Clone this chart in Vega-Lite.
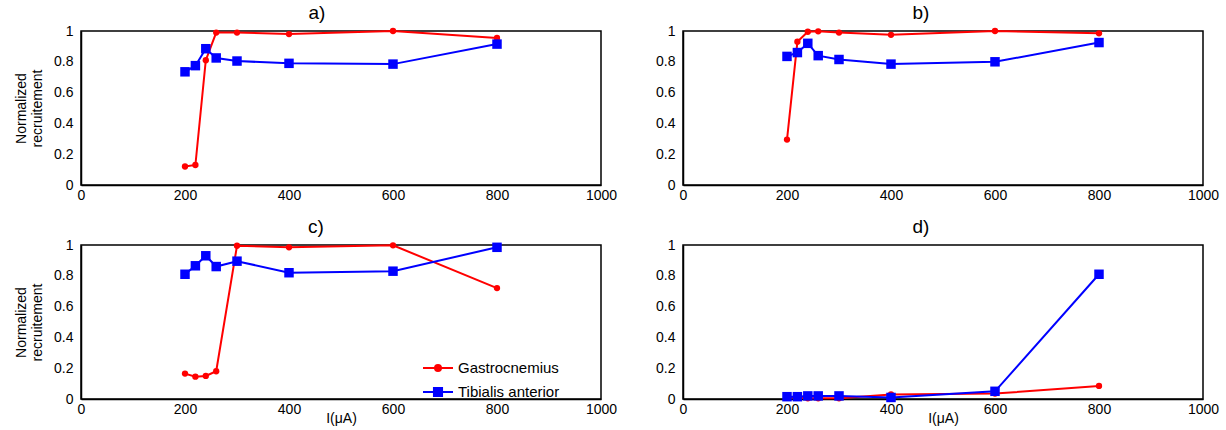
{
  "$schema": "https://vega.github.io/schema/vega-lite/v6.json",
  "padding": {"left": 13, "top": 3, "right": 5, "bottom": 2},
  "background": "white",
  "bounds": "flush",
  "spacing": {"row": 60, "column": 82},
  "columns": 2,
  "data": {"values": [
    {"p":"a","m":"Gastrocnemius","I":200,"v":0.12},
    {"p":"a","m":"Gastrocnemius","I":220,"v":0.13},
    {"p":"a","m":"Gastrocnemius","I":240,"v":0.81},
    {"p":"a","m":"Gastrocnemius","I":260,"v":0.99},
    {"p":"a","m":"Gastrocnemius","I":300,"v":0.99},
    {"p":"a","m":"Gastrocnemius","I":400,"v":0.98},
    {"p":"a","m":"Gastrocnemius","I":600,"v":1.0},
    {"p":"a","m":"Gastrocnemius","I":800,"v":0.955},
    {"p":"a","m":"Tibialis anterior","I":200,"v":0.735},
    {"p":"a","m":"Tibialis anterior","I":220,"v":0.775},
    {"p":"a","m":"Tibialis anterior","I":240,"v":0.885},
    {"p":"a","m":"Tibialis anterior","I":260,"v":0.825},
    {"p":"a","m":"Tibialis anterior","I":300,"v":0.805},
    {"p":"a","m":"Tibialis anterior","I":400,"v":0.79},
    {"p":"a","m":"Tibialis anterior","I":600,"v":0.785},
    {"p":"a","m":"Tibialis anterior","I":800,"v":0.915},
    {"p":"b","m":"Gastrocnemius","I":200,"v":0.295},
    {"p":"b","m":"Gastrocnemius","I":220,"v":0.93},
    {"p":"b","m":"Gastrocnemius","I":240,"v":0.995},
    {"p":"b","m":"Gastrocnemius","I":260,"v":0.998},
    {"p":"b","m":"Gastrocnemius","I":300,"v":0.99},
    {"p":"b","m":"Gastrocnemius","I":400,"v":0.975},
    {"p":"b","m":"Gastrocnemius","I":600,"v":1.0},
    {"p":"b","m":"Gastrocnemius","I":800,"v":0.985},
    {"p":"b","m":"Tibialis anterior","I":200,"v":0.835},
    {"p":"b","m":"Tibialis anterior","I":220,"v":0.86},
    {"p":"b","m":"Tibialis anterior","I":240,"v":0.92},
    {"p":"b","m":"Tibialis anterior","I":260,"v":0.84},
    {"p":"b","m":"Tibialis anterior","I":300,"v":0.815},
    {"p":"b","m":"Tibialis anterior","I":400,"v":0.785},
    {"p":"b","m":"Tibialis anterior","I":600,"v":0.8},
    {"p":"b","m":"Tibialis anterior","I":800,"v":0.925},
    {"p":"c","m":"Gastrocnemius","I":200,"v":0.165},
    {"p":"c","m":"Gastrocnemius","I":220,"v":0.145},
    {"p":"c","m":"Gastrocnemius","I":240,"v":0.15},
    {"p":"c","m":"Gastrocnemius","I":260,"v":0.18},
    {"p":"c","m":"Gastrocnemius","I":300,"v":0.995},
    {"p":"c","m":"Gastrocnemius","I":400,"v":0.985},
    {"p":"c","m":"Gastrocnemius","I":600,"v":0.998},
    {"p":"c","m":"Gastrocnemius","I":800,"v":0.72},
    {"p":"c","m":"Tibialis anterior","I":200,"v":0.81},
    {"p":"c","m":"Tibialis anterior","I":220,"v":0.865},
    {"p":"c","m":"Tibialis anterior","I":240,"v":0.93},
    {"p":"c","m":"Tibialis anterior","I":260,"v":0.86},
    {"p":"c","m":"Tibialis anterior","I":300,"v":0.895},
    {"p":"c","m":"Tibialis anterior","I":400,"v":0.82},
    {"p":"c","m":"Tibialis anterior","I":600,"v":0.83},
    {"p":"c","m":"Tibialis anterior","I":800,"v":0.985},
    {"p":"d","m":"Gastrocnemius","I":200,"v":0.01},
    {"p":"d","m":"Gastrocnemius","I":220,"v":0.01},
    {"p":"d","m":"Gastrocnemius","I":240,"v":0.005},
    {"p":"d","m":"Gastrocnemius","I":260,"v":0.005},
    {"p":"d","m":"Gastrocnemius","I":300,"v":0.005},
    {"p":"d","m":"Gastrocnemius","I":400,"v":0.03},
    {"p":"d","m":"Gastrocnemius","I":600,"v":0.035},
    {"p":"d","m":"Gastrocnemius","I":800,"v":0.085},
    {"p":"d","m":"Tibialis anterior","I":200,"v":0.015},
    {"p":"d","m":"Tibialis anterior","I":220,"v":0.015},
    {"p":"d","m":"Tibialis anterior","I":240,"v":0.02},
    {"p":"d","m":"Tibialis anterior","I":260,"v":0.02},
    {"p":"d","m":"Tibialis anterior","I":300,"v":0.02},
    {"p":"d","m":"Tibialis anterior","I":400,"v":0.01},
    {"p":"d","m":"Tibialis anterior","I":600,"v":0.05},
    {"p":"d","m":"Tibialis anterior","I":800,"v":0.81}
  ]},
  "resolve": {"scale": {"color": "independent"}, "legend": {"color": "independent"}},
  "concat": [
    {
      "width": 520, "height": 154,
      "title": {"text": "a)", "frame": "group", "dx": -24},
      "transform": [{"filter": "datum.p === 'a'"}],
      "resolve": {"axis": {"x": "independent", "y": "independent"}},
      "layer": [
        {"transform": [{"filter": "datum.m === 'Gastrocnemius'"}],
         "mark": {"type": "line", "strokeWidth": 2},
         "encoding": {
           "x": {"field": "I", "type": "quantitative", "scale": {"domain": [0, 1000], "nice": false}, "axis": {"orient": "bottom", "title": null, "ticks": false, "tickSize": 0, "values": [0,200,400,600,800,1000], "format": "d"}},
           "y": {"field": "v", "type": "quantitative", "scale": {"domain": [0, 1], "nice": false}, "axis": {"orient": "left", "title": ["Normalized", "recruitement"], "ticks": false, "tickSize": 0, "values": [0,0.2,0.4,0.6,0.8,1], "format": "~g"}},
           "color": {"field": "m", "type": "nominal", "scale": {"domain": ["Gastrocnemius", "Tibialis anterior"], "range": ["#ff0000", "#0000ff"]}, "legend": null}
         }},
        {"transform": [{"filter": "datum.m === 'Gastrocnemius'"}],
         "mark": {"type": "point", "shape": "circle", "filled": true, "opacity": 1, "size": 40, "color": "#ff0000"},
         "encoding": {"x": {"field": "I", "type": "quantitative", "axis": null}, "y": {"field": "v", "type": "quantitative", "axis": null}}},
        {"transform": [{"filter": "datum.m === 'Tibialis anterior'"}],
         "mark": {"type": "line", "strokeWidth": 2},
         "encoding": {"x": {"field": "I", "type": "quantitative", "axis": null}, "y": {"field": "v", "type": "quantitative", "axis": null}, "color": {"field": "m", "type": "nominal", "legend": null}}},
        {"transform": [{"filter": "datum.m === 'Tibialis anterior'"}],
         "mark": {"type": "point", "shape": "square", "filled": true, "opacity": 1, "size": 90, "color": "#0000ff"},
         "encoding": {"x": {"field": "I", "type": "quantitative", "axis": null}, "y": {"field": "v", "type": "quantitative", "axis": null}}}
      ]
    },
    {
      "width": 520, "height": 154,
      "title": {"text": "b)", "frame": "group", "dx": -22},
      "transform": [{"filter": "datum.p === 'b'"}],
      "resolve": {"axis": {"x": "independent", "y": "independent"}},
      "layer": [
        {"transform": [{"filter": "datum.m === 'Gastrocnemius'"}],
         "mark": {"type": "line", "strokeWidth": 2},
         "encoding": {
           "x": {"field": "I", "type": "quantitative", "scale": {"domain": [0, 1000], "nice": false}, "axis": {"orient": "bottom", "title": null, "ticks": false, "tickSize": 0, "values": [0,200,400,600,800,1000], "format": "d"}},
           "y": {"field": "v", "type": "quantitative", "scale": {"domain": [0, 1], "nice": false}, "axis": {"orient": "left", "title": null, "ticks": false, "tickSize": 0, "values": [0,0.2,0.4,0.6,0.8,1], "format": "~g"}},
           "color": {"field": "m", "type": "nominal", "scale": {"domain": ["Gastrocnemius", "Tibialis anterior"], "range": ["#ff0000", "#0000ff"]}, "legend": null}
         }},
        {"transform": [{"filter": "datum.m === 'Gastrocnemius'"}],
         "mark": {"type": "point", "shape": "circle", "filled": true, "opacity": 1, "size": 40, "color": "#ff0000"},
         "encoding": {"x": {"field": "I", "type": "quantitative", "axis": null}, "y": {"field": "v", "type": "quantitative", "axis": null}}},
        {"transform": [{"filter": "datum.m === 'Tibialis anterior'"}],
         "mark": {"type": "line", "strokeWidth": 2},
         "encoding": {"x": {"field": "I", "type": "quantitative", "axis": null}, "y": {"field": "v", "type": "quantitative", "axis": null}, "color": {"field": "m", "type": "nominal", "legend": null}}},
        {"transform": [{"filter": "datum.m === 'Tibialis anterior'"}],
         "mark": {"type": "point", "shape": "square", "filled": true, "opacity": 1, "size": 90, "color": "#0000ff"},
         "encoding": {"x": {"field": "I", "type": "quantitative", "axis": null}, "y": {"field": "v", "type": "quantitative", "axis": null}}}
      ]
    },
    {
      "width": 520, "height": 154,
      "title": {"text": "c)", "frame": "group", "dx": -25},
      "transform": [{"filter": "datum.p === 'c'"}],
      "resolve": {"axis": {"x": "independent", "y": "independent"}},
      "layer": [
        {"transform": [{"filter": "datum.m === 'Gastrocnemius'"}],
         "mark": {"type": "line", "strokeWidth": 2},
         "encoding": {
           "x": {"field": "I", "type": "quantitative", "scale": {"domain": [0, 1000], "nice": false}, "axis": {"orient": "bottom", "title": "I(μA)", "ticks": false, "tickSize": 0, "values": [0,200,400,600,800,1000], "format": "d"}},
           "y": {"field": "v", "type": "quantitative", "scale": {"domain": [0, 1], "nice": false}, "axis": {"orient": "left", "title": ["Normalized", "recruitement"], "ticks": false, "tickSize": 0, "values": [0,0.2,0.4,0.6,0.8,1], "format": "~g"}},
           "color": {"field": "m", "type": "nominal", "scale": {"domain": ["Gastrocnemius", "Tibialis anterior"], "range": ["#ff0000", "#0000ff"]},
             "legend": {"title": null, "orient": "none", "legendX": 341, "legendY": 107, "padding": 0, "symbolSize": 900, "symbolStrokeWidth": 2, "labelFontSize": 15, "labelOffset": 4, "rowPadding": -15,
               "encode": {"symbols": {"update": {
                 "shape": {"signal": "datum.value === 'Gastrocnemius' ? 'M-1,0H1M-0.2,0A0.2,0.2 0 1 1 0.2,0A0.2,0.2 0 1 1 -0.2,0Z' : 'M-1,0H1M-0.27,-0.27H0.27V0.27H-0.27Z'"},
                 "fill": {"signal": "datum.value === 'Gastrocnemius' ? '#ff0000' : '#0000ff'"},
                 "stroke": {"signal": "datum.value === 'Gastrocnemius' ? '#ff0000' : '#0000ff'"},
                 "fillOpacity": {"value": 1},
                 "strokeWidth": {"value": 2}
               }}}}}
         }},
        {"transform": [{"filter": "datum.m === 'Gastrocnemius'"}],
         "mark": {"type": "point", "shape": "circle", "filled": true, "opacity": 1, "size": 40, "color": "#ff0000"},
         "encoding": {"x": {"field": "I", "type": "quantitative", "axis": null}, "y": {"field": "v", "type": "quantitative", "axis": null}}},
        {"transform": [{"filter": "datum.m === 'Tibialis anterior'"}],
         "mark": {"type": "line", "strokeWidth": 2},
         "encoding": {"x": {"field": "I", "type": "quantitative", "axis": null}, "y": {"field": "v", "type": "quantitative", "axis": null}, "color": {"field": "m", "type": "nominal"}}},
        {"transform": [{"filter": "datum.m === 'Tibialis anterior'"}],
         "mark": {"type": "point", "shape": "square", "filled": true, "opacity": 1, "size": 90, "color": "#0000ff"},
         "encoding": {"x": {"field": "I", "type": "quantitative", "axis": null}, "y": {"field": "v", "type": "quantitative", "axis": null}}}
      ]
    },
    {
      "width": 520, "height": 154,
      "title": {"text": "d)", "frame": "group", "dx": -22},
      "transform": [{"filter": "datum.p === 'd'"}],
      "resolve": {"axis": {"x": "independent", "y": "independent"}},
      "layer": [
        {"transform": [{"filter": "datum.m === 'Gastrocnemius'"}],
         "mark": {"type": "line", "strokeWidth": 2},
         "encoding": {
           "x": {"field": "I", "type": "quantitative", "scale": {"domain": [0, 1000], "nice": false}, "axis": {"orient": "bottom", "title": "I(μA)", "ticks": false, "tickSize": 0, "values": [0,200,400,600,800,1000], "format": "d"}},
           "y": {"field": "v", "type": "quantitative", "scale": {"domain": [0, 1], "nice": false}, "axis": {"orient": "left", "title": null, "ticks": false, "tickSize": 0, "values": [0,0.2,0.4,0.6,0.8,1], "format": "~g"}},
           "color": {"field": "m", "type": "nominal", "scale": {"domain": ["Gastrocnemius", "Tibialis anterior"], "range": ["#ff0000", "#0000ff"]}, "legend": null}
         }},
        {"transform": [{"filter": "datum.m === 'Gastrocnemius'"}],
         "mark": {"type": "point", "shape": "circle", "filled": true, "opacity": 1, "size": 40, "color": "#ff0000"},
         "encoding": {"x": {"field": "I", "type": "quantitative", "axis": null}, "y": {"field": "v", "type": "quantitative", "axis": null}}},
        {"transform": [{"filter": "datum.m === 'Tibialis anterior'"}],
         "mark": {"type": "line", "strokeWidth": 2},
         "encoding": {"x": {"field": "I", "type": "quantitative", "axis": null}, "y": {"field": "v", "type": "quantitative", "axis": null}, "color": {"field": "m", "type": "nominal", "legend": null}}},
        {"transform": [{"filter": "datum.m === 'Tibialis anterior'"}],
         "mark": {"type": "point", "shape": "square", "filled": true, "opacity": 1, "size": 90, "color": "#0000ff"},
         "encoding": {"x": {"field": "I", "type": "quantitative", "axis": null}, "y": {"field": "v", "type": "quantitative", "axis": null}}}
      ]
    }
  ],
  "config": {
    "font": "Liberation Sans",
    "view": {"stroke": "black", "strokeWidth": 1.5},
    "title": {"fontSize": 19, "fontWeight": "normal", "color": "black", "offset": 1, "font": "Liberation Sans"},
    "axis": {
      "domainColor": "black", "domainWidth": 1.5,
      "labelFontSize": 14, "labelColor": "black", "labelFont": "Liberation Sans",
      "titleFontSize": 14, "titleColor": "black", "titleFontWeight": "normal", "titleFont": "Liberation Sans",
      "grid": false, "labelOverlap": false, "labelFlush": false
    },
    "axisBottom": {"labelPadding": 3, "titlePadding": -5},
    "axisLeft": {"labelPadding": 8, "titlePadding": 9},
    "legend": {"labelFont": "Liberation Sans", "labelColor": "black"}
  }
}
